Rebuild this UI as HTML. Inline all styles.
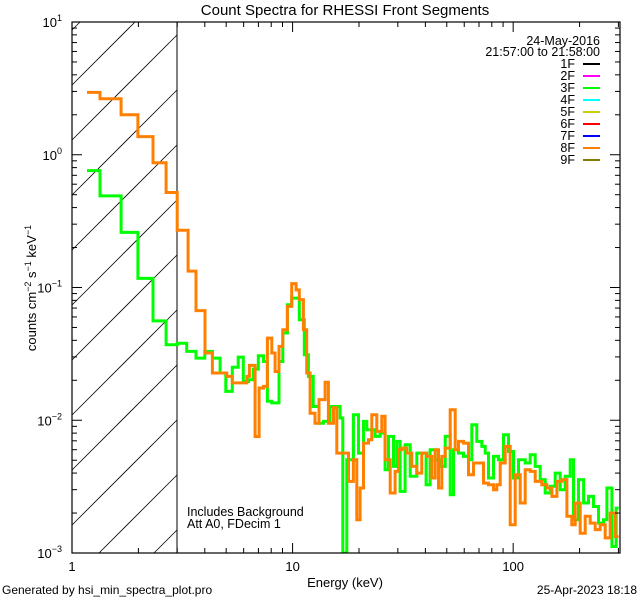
<!DOCTYPE html>
<html><head><meta charset="utf-8"><style>
html,body{margin:0;padding:0;background:#fff;width:640px;height:600px;overflow:hidden;}
svg{display:block;font-family:"Liberation Sans",sans-serif;overflow:hidden;}
</style></head><body>
<svg id="chart" width="640" height="600" viewBox="0 0 640 600" xmlns="http://www.w3.org/2000/svg">
<rect width="640" height="600" fill="#fff"/>
<text x="345" y="15" text-anchor="middle" font-size="15">Count Spectra for RHESSI Front Segments</text>
<defs><clipPath id="pclip"><rect x="72" y="22" width="548" height="531"/></clipPath></defs>
<g id="hatch"></g>
<line x1="177" y1="22" x2="177" y2="553" stroke="#000" stroke-width="1"/>
<g id="series" clip-path="url(#pclip)"></g>
<rect x="72" y="22" width="548" height="531" fill="none" stroke="#000" stroke-width="1.2"/>
<g id="axes"></g>
<text transform="translate(36,288) rotate(-90)" text-anchor="middle" font-size="13">counts cm<tspan dy="-5" font-size="9">−2</tspan><tspan dy="5"> s</tspan><tspan dy="-5" font-size="9">−1</tspan><tspan dy="5"> keV</tspan><tspan dy="-5" font-size="9">−1</tspan></text>
<text x="345" y="587" text-anchor="middle" font-size="13">Energy (keV)</text>
<text x="187" y="516" font-size="12.5">Includes Background</text>
<text x="187" y="528" font-size="12.5">Att A0, FDecim 1</text>
<text x="2" y="594" font-size="12">Generated by hsi_min_spectra_plot.pro</text>
<text x="637" y="594" text-anchor="end" font-size="12">25-Apr-2023 18:18</text>
<text x="600" y="45" text-anchor="end" font-size="12.5">24-May-2016</text>
<text x="600" y="56" text-anchor="end" font-size="12.5">21:57:00 to 21:58:00</text>
<g id="legend"></g>
</svg>
<script>
const legendLabels=["1F","2F","3F","4F","5F","6F","7F","8F","9F"];
const legendColors=["#000000","#ff00ff","#00ff00","#00ffff","#cccc00","#ff0000","#0000ff","#ff8000","#808000"];
const xTicks=[1,10,100];
const xTickLabels=["1","10","100"];
const yTicks=[-3,-2,-1,0,1];
const greenEdges=[1.17,1.34,1.67,1.99,2.33,2.67,3.0,3.31,3.65,4.0,4.33,4.69,4.98,5.33,5.67,5.98,6.31,6.63,6.99,7.38,7.69,8.05,8.68,9.03,9.47,9.91,10.73,11.3,11.8,12.4,13.18,13.8,14.77,16.42,16.89,17.61,18.87,19.89,20.96,21.70,22.86,23.67,24.94,26.28,27.21,28.67,29.68,30.73,32.37,34.12,36.58,38.54,40.31,42.03,44.29,46.67,49.17,51.81,53.65,56.52,59.55,62.73,64.95,68.43,72.10,74.65,77.29,81.43,85.80,90.39,95.24,100.3,105.7,113.4,119.4,125.8,132.6,139.7,147.2,155.1,163.4,172.2,181.4,187.7,197.8,208.5,219.6,231.4,243.8,256.8,266.0,280.2,293.2,300.5];
const greenValues=[0.76,0.49,0.26,0.117,0.056,0.037,0.038,0.033,0.0294,0.033,0.0294,0.0227,0.0165,0.0251,0.0299,0.0196,0.0202,0.0243,0.0306,0.0277,0.0139,0.0135,0.0277,0.0454,0.0742,0.0832,0.0572,0.0311,0.0214,0.0127,0.0095,0.0098,0.0127,0.0104,0.00100,0.00504,0.0110,0.00566,0.0098,0.00849,0.00849,0.00756,0.00801,0.00424,0.00756,0.00449,0.00693,0.00291,0.00654,0.00378,0.00566,0.00566,0.00327,0.00600,0.00504,0.00449,0.00756,0.00275,0.00600,0.00566,0.00534,0.00504,0.00925,0.00693,0.00635,0.00566,0.00367,0.00534,0.00504,0.00778,0.00582,0.00367,0.00504,0.00476,0.00550,0.00449,0.00357,0.00283,0.00318,0.00400,0.00300,0.00378,0.00504,0.00178,0.00357,0.00238,0.00267,0.00224,0.00168,0.00178,0.00309,0.00112,0.00218];
const orangeEdges=[1.17,1.34,1.67,1.99,2.33,2.67,3.0,3.36,3.65,4.01,4.33,5.03,5.33,6.2,6.37,6.76,7.05,7.38,7.69,8.05,8.33,8.68,9.03,9.47,9.91,10.37,10.73,11.19,11.59,12.0,12.64,13.18,13.56,14.04,14.54,15.32,15.86,17.92,18.87,19.54,20.23,20.96,22.08,22.86,24.08,25.37,26.28,27.69,29.17,30.20,31.27,32.95,34.72,36.58,38.54,40.60,42.77,44.29,45.85,47.49,49.17,51.81,54.58,56.52,59.55,62.73,66.09,69.63,73.37,77.29,81.43,84.33,87.33,91.99,96.92,102.1,107.6,113.4,119.4,125.8,134.9,142.1,149.8,157.8,166.3,175.2,184.5,191.1,201.4,212.2,223.5,235.5,248.1,261.4,275.4,290.1,300.5];
const orangeValues=[2.95,2.64,2.0,1.37,0.87,0.52,0.27,0.133,0.067,0.0321,0.0227,0.0214,0.0191,0.0214,0.0259,0.00755,0.0175,0.018,0.0416,0.0321,0.0233,0.036,0.0481,0.072,0.107,0.096,0.081,0.0481,0.0227,0.0113,0.0095,0.0143,0.0143,0.0193,0.0095,0.0124,0.00566,0.00346,0.00504,0.00178,0.00309,0.00673,0.00713,0.0110,0.00824,0.0107,0.00504,0.00283,0.00412,0.00600,0.00617,0.00566,0.00449,0.00400,0.00566,0.00534,0.00367,0.00600,0.00309,0.00534,0.00617,0.0120,0.00600,0.00693,0.00673,0.00389,0.00476,0.00476,0.00336,0.00327,0.00300,0.00327,0.00476,0.00635,0.00163,0.00389,0.00238,0.00424,0.00412,0.00346,0.00327,0.00309,0.00267,0.00346,0.00357,0.00189,0.00163,0.00238,0.00141,0.00189,0.00168,0.00150,0.00163,0.00130,0.00200,0.00133];

const NS="http://www.w3.org/2000/svg";
const X0=72,X1=620,Y0=553,Y1=22;
const xMin=0,xMax=Math.log10(305),yMin=-3,yMax=1;
function xs(e){return X0+(Math.log10(e)-xMin)/(xMax-xMin)*(X1-X0);}
function ys(v){return Y0-(Math.log10(v)-yMin)/(yMax-yMin)*(Y0-Y1);}
function mk(tag,attrs,parent){const el=document.createElementNS(NS,tag);for(const k in attrs)el.setAttribute(k,attrs[k]);parent.appendChild(el);return el;}

const hatch=document.getElementById('hatch');
const HX1=177;
for(let b=85-55*3;b<=Y0+(HX1-X0)+55;b+=55){
  const xa=Math.max(X0,X0+(b-Y0)), xb=Math.min(HX1,X0+(b-Y1));
  if(xb<=xa)continue;
  const l=mk('line',{x1:xa,y1:b-(xa-X0),x2:xb,y2:b-(xb-X0),stroke:'#000','stroke-width':0.8},hatch);
  
  
}

const axes=document.getElementById('axes');
for(let d=0;d<3;d++){
  for(let m=1;m<10;m++){
    const e=Math.pow(10,d)*m; if(e>305)break;
    const x=xs(e); const len=m===1?10:5;
    const t1=mk('line',{x1:x,y1:Y0,x2:x,y2:Y0-len,stroke:'#000'},axes);
    
    
    const t2=mk('line',{x1:x,y1:Y1,x2:x,y2:Y1+len,stroke:'#000'},axes);
    
    
  }
}
xTicks.forEach((t,i)=>{
  const tx=mk('text',{x:xs(t),y:571,'text-anchor':'middle','font-size':13},axes);
  tx.textContent=xTickLabels[i];
  
  
});
for(let d=-3;d<1;d++){
  for(let m=1;m<10;m++){
    const v=Math.pow(10,d)*m; const y=ys(v); const len=m===1?10:5;
    const a=mk('line',{x1:X0,y1:y,x2:X0+len,y2:y,stroke:'#000'},axes);
    
    
    const b=mk('line',{x1:X1,y1:y,x2:X1-len,y2:y,stroke:'#000'},axes);
    
    
  }
}
yTicks.forEach(p=>{
  const y=ys(Math.pow(10,p));
  const tx=mk('text',{x:62,y:y+5,'text-anchor':'end','font-size':13},axes);
  tx.innerHTML='10<tspan dy="-6" font-size="9">'+(p<0?'−'+(-p):p)+'</tspan>';
  
  
});

const series=document.getElementById('series');
function stepPath(edges,vals){
  let d='';
  for(let i=0;i<vals.length;i++){
    const xa=xs(edges[i]),xb=Math.min(X1,xs(edges[i+1])),y=Math.min(Y0,Math.max(Y1,ys(vals[i])));
    d+=(i===0?'M':'L')+xa.toFixed(1)+','+y.toFixed(1)+'L'+xb.toFixed(1)+','+y.toFixed(1);
  }
  return d;
}
const g=mk('path',{d:stepPath(greenEdges,greenValues),fill:'none',stroke:'#00ff00','stroke-width':3,'stroke-linejoin':'miter'},series);


const o=mk('path',{d:stepPath(orangeEdges,orangeValues),fill:'none',stroke:'#ff8000','stroke-width':3,'stroke-linejoin':'miter'},series);



const legend=document.getElementById('legend');
legendLabels.forEach((lab,i)=>{
  const y=64+i*12;
  const t=mk('text',{x:575,y:y+4,'text-anchor':'end','font-size':12.5},legend);
  t.textContent=lab;
  
  
  const l=mk('line',{x1:583,y1:y,x2:600,y2:y,stroke:legendColors[i],'stroke-width':2},legend);
  
  
});
</script>
</body></html>
